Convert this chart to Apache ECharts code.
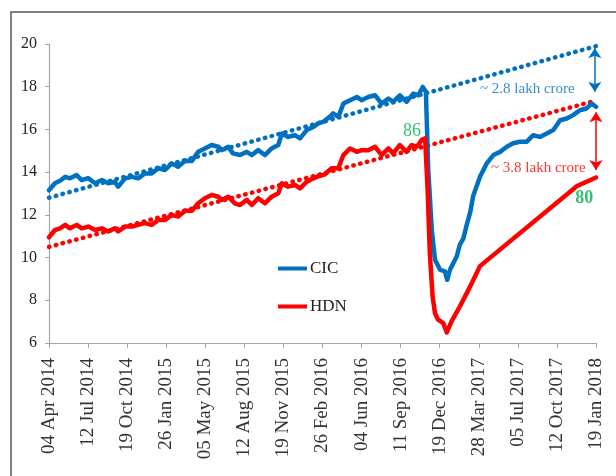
<!DOCTYPE html>
<html>
<head>
<meta charset="utf-8">
<script src="https://cdn.jsdelivr.net/npm/echarts@6/dist/echarts.min.js"></script>
<style>
  html, body { margin: 0; padding: 0; background: #fff; }
  #chart { width: 616px; height: 476px; }
</style>
</head>
<body>
<div id="chart"></div>
<script>
// x = days since 04 Apr 2014, labels every 99 days
var xTickLabels = ['04 Apr 2014', '12 Jul 2014', '19 Oct 2014', '26 Jan 2015', '05 May 2015',
    '12 Aug 2015', '19 Nov 2015', '26 Feb 2016', '04 Jun 2016', '11 Sep 2016',
    '19 Dec 2016', '28 Mar 2017', '05 Jul 2017', '12 Oct 2017', '19 Jan 2018'];

var cicData = [
    [0, 13.15], [15, 13.48], [28, 13.6], [41, 13.78], [53, 13.71], [70, 13.86], [83, 13.63], [99, 13.72],
    [117, 13.48], [134, 13.63], [150, 13.48], [167, 13.55], [175, 13.32], [193, 13.71], [210, 13.78],
    [226, 13.71], [243, 13.94], [260, 13.94], [277, 14.18], [294, 14.1], [311, 14.41], [327, 14.25],
    [345, 14.53], [362, 14.52], [378, 14.95], [395, 15.11], [412, 15.27], [429, 15.19], [438, 15.03],
    [454, 15.19], [466, 14.88], [484, 14.8], [501, 14.95], [514, 14.8], [530, 15.03], [547, 14.8],
    [564, 15.11], [581, 15.27], [590, 15.81], [606, 15.65], [623, 15.73], [636, 15.58], [653, 15.97],
    [670, 16.12], [682, 16.28], [694, 16.35], [712, 16.6], [720, 16.75], [733, 16.59], [746, 17.21],
    [763, 17.37], [780, 17.52], [792, 17.37], [809, 17.52], [826, 17.6], [843, 17.21], [860, 17.45],
    [872, 17.29], [889, 17.6], [906, 17.29], [923, 17.68], [936, 17.6], [947, 17.99], [955, 17.76],
    [961, 14.1], [970, 11.29], [978, 9.9], [991, 9.43], [1003, 9.35], [1009, 8.96], [1016, 9.43],
    [1033, 10.05], [1041, 10.6], [1050, 10.9], [1058, 11.5], [1067, 12.1], [1075, 12.9], [1092, 13.78],
    [1109, 14.41], [1126, 14.8], [1143, 14.95], [1160, 15.19], [1176, 15.35], [1193, 15.42], [1210, 15.42],
    [1227, 15.73], [1244, 15.65], [1261, 15.81], [1278, 15.97], [1295, 16.43], [1312, 16.51], [1328, 16.67],
    [1345, 16.9], [1362, 16.98], [1375, 17.21], [1386, 17.06]
];

var hdnData = [
    [0, 10.95], [15, 11.29], [28, 11.37], [41, 11.53], [53, 11.37], [70, 11.53], [83, 11.37], [100, 11.45],
    [117, 11.29], [134, 11.37], [150, 11.22], [167, 11.37], [175, 11.22], [193, 11.45], [210, 11.45],
    [226, 11.53], [243, 11.61], [260, 11.53], [277, 11.76], [294, 11.76], [311, 12.0], [327, 11.92],
    [345, 12.19], [362, 12.19], [378, 12.54], [395, 12.78], [412, 12.93], [429, 12.85], [438, 12.7],
    [454, 12.85], [471, 12.54], [484, 12.46], [501, 12.7], [514, 12.46], [530, 12.78], [547, 12.54],
    [564, 12.85], [581, 13.01], [590, 13.48], [606, 13.32], [623, 13.4], [636, 13.24], [653, 13.55],
    [670, 13.71], [682, 13.8], [699, 13.9], [716, 14.18], [733, 14.18], [746, 14.8], [763, 15.11],
    [780, 14.95], [792, 15.03], [809, 15.03], [826, 15.19], [843, 14.8], [860, 15.11], [872, 14.88],
    [889, 15.27], [906, 14.95], [919, 15.27], [932, 15.19], [944, 15.5], [953, 15.58], [959, 13.32],
    [965, 10.2], [972, 8.18], [978, 7.4], [986, 7.09], [999, 6.93], [1008, 6.5], [1020, 7.01],
    [1041, 7.71], [1067, 8.64], [1092, 9.6], [1338, 13.35], [1386, 13.75]
];

// linear trend lines (start, end)
var cicTrend = [[0, 12.8], [1386, 19.9]];
var hdnTrend = [[0, 10.5], [1386, 17.35]];

// double-headed gap arrows
var cicGap = [[1383, 19.8], [1383, 17.77]];
var hdnGap = [[1386, 16.8], [1386, 14.1]];

// text notes: [day, value, text, colour]
var notes = [
    [1212, 17.88, '~ 2.8 lakh crore', '#0070c0'],
    [1240, 14.19, '~ 3.8 lakh crore', '#ff0000'],
    [920, 15.92, '86', '#00b050'],
    [1356, 12.79, '80', '#00b050']
];

var serif = 'Liberation Serif';
var blue = '#0070c0';
var red = '#ff0000';

var myChart = echarts.init(document.getElementById('chart'), null, { renderer: 'canvas' });

function gapLine(pts, color) {
    return {
        silent: true,
        symbol: ['arrow', 'arrow'],
        symbolSize: 10,
        label: { show: false },
        lineStyle: { color: color, width: 1.5, type: 'solid' },
        data: [[{ coord: pts[0] }, { coord: pts[1] }]]
    };
}

var option = {
    animation: false,
    backgroundColor: '#fff',
    graphic: [{
        type: 'rect',
        shape: { x: 11, y: 12, width: 700, height: 600 },
        style: { fill: 'none', stroke: '#595959', lineWidth: 1.5 },
        silent: true
    }],
    grid: { left: 49, right: 20, top: 44, bottom: 133 },
    legend: {
        data: ['CIC', 'HDN'],
        orient: 'vertical',
        left: 273,
        top: 255,
        icon: 'rect',
        itemWidth: 29,
        itemHeight: 4,
        itemGap: 21,
        textStyle: { fontFamily: serif, fontSize: 17, color: '#222', padding: [0, 0, 0, -2] }
    },
    xAxis: {
        type: 'value',
        min: 0,
        max: 1386,
        interval: 99,
        splitLine: { show: false },
        axisLine: { lineStyle: { color: '#a6a6a6', width: 1.2 } },
        axisTick: { show: true, length: 5, lineStyle: { color: '#a6a6a6' } },
        axisLabel: {
            rotate: 90,
            margin: 15,
            fontFamily: serif,
            fontSize: 19,
            color: '#333',
            formatter: function (v) {
                return xTickLabels[Math.round(v / 99)];
            }
        }
    },
    yAxis: {
        type: 'value',
        min: 6,
        max: 20,
        interval: 2,
        splitLine: { show: false },
        axisLine: { show: true, lineStyle: { color: '#a6a6a6', width: 1.2 } },
        axisTick: { show: true, length: 4, lineStyle: { color: '#a6a6a6' } },
        axisLabel: { margin: 12, fontFamily: serif, fontSize: 16, color: '#222' }
    },
    series: [{
        name: 'CIC trend',
        type: 'line',
        data: cicTrend,
        symbol: 'none',
        z: 1,
        lineStyle: { color: blue, width: 4.5, type: [0.5, 6.5], cap: 'round' },
        markLine: gapLine(cicGap, blue)
    }, {
        name: 'HDN trend',
        type: 'line',
        data: hdnTrend,
        symbol: 'none',
        z: 1,
        lineStyle: { color: red, width: 4.5, type: [0.5, 6.5], cap: 'round' },
        markLine: gapLine(hdnGap, red)
    }, {
        name: 'CIC',
        type: 'line',
        data: cicData,
        symbol: 'none',
        z: 3,
        color: blue,
        lineStyle: { color: blue, width: 4.5, join: 'round', cap: 'round' }
    }, {
        name: 'HDN',
        type: 'line',
        data: hdnData,
        symbol: 'none',
        z: 3,
        color: red,
        lineStyle: { color: red, width: 4.5, join: 'round', cap: 'round' }
    }, {
        name: 'notes',
        type: 'scatter',
        symbolSize: 0,
        z: 5,
        silent: true,
        data: notes.map(function (n) {
            return {
                value: [n[0], n[1]],
                label: {
                    show: true,
                    position: 'inside',
                    formatter: n[2],
                    color: n[3],
                    fontFamily: serif,
                    fontSize: n[2].length > 3 ? 15 : 18,
                    fontWeight: n[2] === '80' ? 'bold' : 'normal'
                }
            };
        })
    }]
};
myChart.setOption(option);
</script>
</body>
</html>
